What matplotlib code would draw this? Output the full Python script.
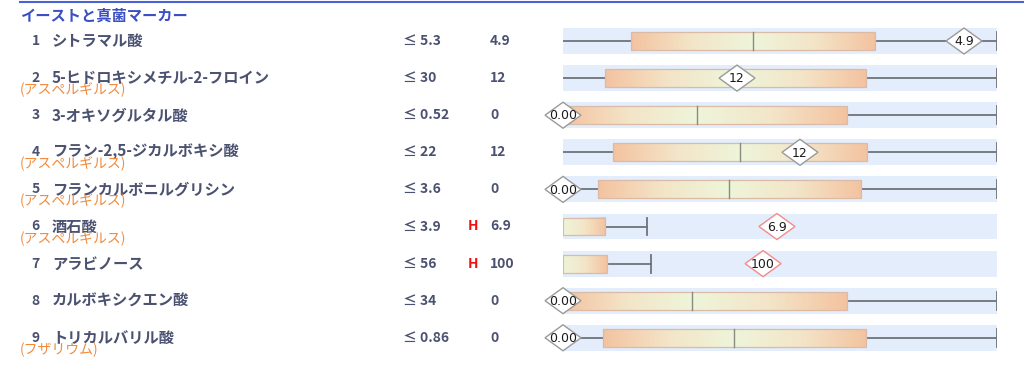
import numpy as np
import matplotlib.pyplot as plt
from matplotlib.patches import Polygon, Rectangle
from matplotlib.colors import LinearSegmentedColormap
from matplotlib.transforms import blended_transform_factory

plt.rcParams['font.family'] = ['Noto Sans CJK JP', 'DejaVu Sans']

title = 'イーストと真菌マーカー'
names = ['シトラマル酸', '5-ヒドロキシメチル-2-フロイン', '3-オキソグルタル酸',
         'フラン-2,5-ジカルボキシ酸', 'フランカルボニルグリシン', '酒石酸',
         'アラビノース', 'カルボキシクエン酸', 'トリカルバリル酸']
subs = ['', '(アスペルギルス)', '', '(アスペルギルス)', '(アスペルギルス)',
        '(アスペルギルス)', '', '', '(フザリウム)']
limits = ['≤ 5.3', '≤ 30', '≤ 0.52', '≤ 22', '≤ 3.6', '≤ 3.9', '≤ 56', '≤ 34', '≤ 0.86']
flags = ['', '', '', '', '', 'H', 'H', '', '']
values = ['4.9', '12', '0', '12', '0', '6.9', '100', '0', '0']
marker_labels = ['4.9', '12', '0.00', '12', '0.00', '6.9', '100', '0.00', '0.00']

# box stats on a 0-100 reference scale
wlo = [0, 0, 0, 0, 0, 0, 0, 0, 0]
q1 = [15.7, 9.7, 0, 11.5, 8.1, 0, 0, 0, 9.2]
med = [43.8, 40.0, 30.9, 40.8, 38.2, 0, 0, 29.7, 39.4]
q3 = [71.9, 69.8, 65.4, 70.0, 68.7, 9.7, 10.1, 65.4, 69.8]
whi = [100, 100, 100, 100, 100, 19.4, 20.3, 100, 100]
marker_pos = [92.4, 40.1, 0, 54.6, 0, 49.3, 46.1, 0, 0]

W, H = 1024, 365
fig = plt.figure(figsize=(W / 100, H / 100), dpi=100)

row_top, row_step = 41, 37.1
n = len(names)
ax_top = row_top - row_step / 2
ax_h = row_step * n
ax = fig.add_axes([563 / W, (H - ax_top - ax_h) / H, 434 / W, ax_h / H])
ax.set_xlim(0, 100)
ax.set_ylim(n - 0.5, -0.5)
ax.axis('off')

cmap = LinearSegmentedColormap.from_list('bx', ['#eef5da', '#f3e5c8', '#f4c3a0'])
txt_col = '#4b5170'
tr = blended_transform_factory(fig.transFigure, ax.transData)

dw = 36 / 4.34 / 2
dh = 13 / row_step

for i in range(n):
    y = i
    ax.add_patch(Rectangle((0, y - 0.35), 100, 0.7, facecolor='#e3edfc', edgecolor='none', zorder=0))
    # whisker
    ax.plot([wlo[i], whi[i]], [y, y], color='#6f737a', lw=1.3, zorder=1)
    ax.plot([whi[i], whi[i]], [y - 0.24, y + 0.24], color='#6f737a', lw=1.3, zorder=1)
    # gradient box
    xs = np.linspace(q1[i], q3[i], 300)
    left = max(med[i] - q1[i], 1e-6)
    right = max(q3[i] - med[i], 1e-6)
    t = np.where(xs < med[i], (med[i] - xs) / left, (xs - med[i]) / right)
    ax.imshow(t[np.newaxis, :], cmap=cmap, vmin=0, vmax=1, aspect='auto',
              extent=[q1[i], q3[i], y + 0.24, y - 0.24], zorder=2, interpolation='bilinear')
    ax.add_patch(Rectangle((q1[i], y - 0.24), q3[i] - q1[i], 0.48, facecolor='none',
                           edgecolor='#d9bba8', lw=0.9, zorder=3))
    if med[i] > q1[i]:
        ax.plot([med[i], med[i]], [y - 0.24, y + 0.24], color='#8a8a80', lw=1.0, zorder=3)
    # diamond marker
    mx = marker_pos[i]
    ec = '#f08c8c' if flags[i] == 'H' else '#9a9a9a'
    ax.add_patch(Polygon([[mx - dw, y], [mx, y - dh], [mx + dw, y], [mx, y + dh]],
                         closed=True, facecolor='white', edgecolor=ec, lw=1.0,
                         zorder=4, clip_on=False))
    ax.text(mx, y + 0.02, marker_labels[i], ha='center', va='center', fontsize=9,
            color='#1a1a1a', zorder=5, clip_on=False, family='DejaVu Sans')

    # left side text
    ax.text(40 / W, y, str(i + 1), transform=tr, ha='right', va='center',
            fontsize=10, color=txt_col, fontweight='bold')
    ax.text(52 / W, y, names[i], transform=tr, ha='left', va='center',
            fontsize=11, color=txt_col, fontweight='bold')
    if subs[i]:
        ax.text(20 / W, y + 0.32, subs[i], transform=tr, ha='left', va='center',
                fontsize=10, color='#f28a3c', style='italic')
    ax.text(403 / W, y, limits[i], transform=tr, ha='left', va='center',
            fontsize=10, color=txt_col, fontweight='bold')
    if flags[i]:
        ax.text(473 / W, y, flags[i], transform=tr, ha='center', va='center',
                fontsize=10, color='#ee1111', fontweight='bold')
    ax.text(490 / W, y, values[i], transform=tr, ha='left', va='center',
            fontsize=10, color=txt_col, fontweight='bold')

fig.text(20 / W, 1 - 16 / H, title, ha='left', va='center', fontsize=11,
         color='#3b4fc4', fontweight='bold')
fig.add_artist(plt.Line2D([20 / W, 1], [1 - 1.5 / H, 1 - 1.5 / H], color='#4a62d6',
                          lw=1.5, transform=fig.transFigure))

fig.savefig('out.png', dpi=100)
